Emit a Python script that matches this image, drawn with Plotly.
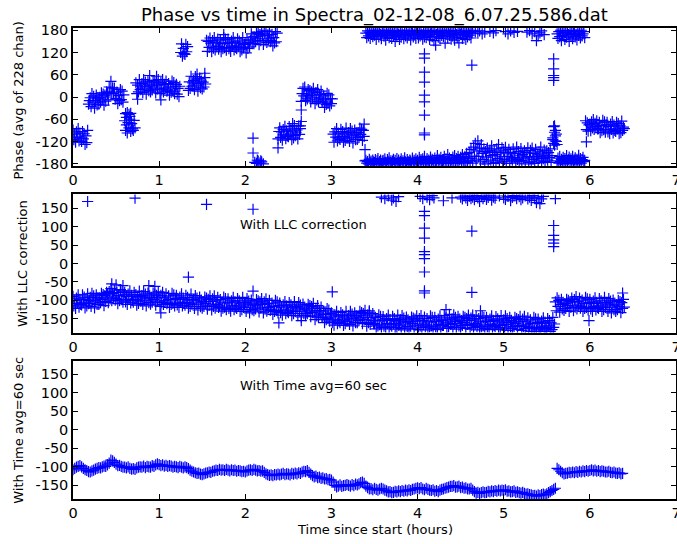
import numpy as np
import plotly.graph_objects as go

# ---------------- data ----------------
x_ticks = [0, 1, 2, 3, 4, 5, 6, 7]
y1_ticks = [-180, -120, -60, 0, 60, 120, 180]
y23_ticks = [-150, -100, -50, 0, 50, 100, 150]

# Panel 1: raw phase, one sample every 0.01 h from t=0.00
phase_raw = [
 -89, -115, -100, -122, -94, -108, -85, -118, -97, -111,
 -120, -93, -113, -99, -128, -105, -123, -90, -19, -10,
 -2, -26, 9, -14, 2, -30, -9, 5, -21, -3,
 -19, -1, -14, 11, -6, 8, -22, 5, -11, 14,
 10, -8, 27, 12, 42, 9, 25, 9, 24, -6,
 -4, 13, -18, 4, -10, 20, -7, 16, -14, 6,
 -64, -90, -75, -97, -69, -83, -60, -93, -72, -86,
 -90, -63, -83, 38, 9, 32, 14, 47, 20, 29,
 36, 12, 47, 24, 40, 8, 29, 43, 17, 35,
 14, 32, 19, 44, 27, 41, 11, 38, 22, 47,
 32, 9, 39, 19, 47, 14, 34, 24, 43, 16,
 19, 36, 5, 27, 13, 43, 16, 39, 9, 29,
 34, 8, 23, 1, 29, 120, 143, 110, 131, 117,
 115, 142, 122, 136, 18, 41, 23, 56, 29, 38,
 44, 20, 55, 32, 48, 16, 37, 51, 25, 43,
 22, 40, 27, 52, 35, 153, 123, 150, 134, 159,
 145, 122, 152, 132, 160, 127, 147, 137, 156, 129,
 136, 153, 122, 144, 130, 160, 133, 156, 126, 146,
 156, 130, 145, 123, 151, 137, 160, 127, 148, 134,
 130, 157, 137, 151, 122, 145, 127, 160, 133, 142,
 143, 119, 154, 131, 147, 135, 153, 170, 144, 162,
 144, 162, 149, 174, 157, 171, 141, 168, 152, 177,
 165, 142, 172, 152, 180, 147, 167, 157, 176, 149,
 152, 169, 138, 160, 146, 176, 149, 172, -113, -93,
 -83, -109, -94, -116, -88, -102, -79, -112, -91, -105,
 -107, -80, -100, -86, -115, -92, -110, -77, -104, -95,
 -89, -113, -78, -101, -85, -12, 9, 23, 3, 27,
 -10, 8, -5, 20, 3, 17, -13, 14, -2, 23,
 5, -18, 12, -8, 20, -13, 7, -3, 16, -11,
 -14, 3, -28, -6, -20, 10, -17, 6, -24, -4,
 -18, -5, -100, -122, -94, -108, -85, -118, -97, -111,
 -114, -87, -107, -93, -122, -99, -117, -84, -111, -102,
 -96, -120, -85, -108, -92, -124, -103, -89, -115, -97,
 -114, -96, -109, -84, -101, -87, -117, -90, -106, -172,
 -171, -178, -174, -180, -168, -176, -173, -179, -170, -175,
 -177, -169, -180, -172, -166, -178, -174, -170, -180, -173,
 -171, -179, -167, -176, -180, -169, -175, -164, -178, -172,
 -179, -173, -168, -177, -171, -180, -166, -176, -170, -178,
 -174, -167, -179, -172, -177, -164, -175, -180, -169, -174,
 -177, -170, -173, -180, -165, -176, -171, -178, -167, -175,
 -171, -178, -163, -175, -169, -180, -167, -174, -160, -177,
 -174, -166, -179, -170, -176, -162, -173, -168, -178, -171,
 -165, -177, -170, -158, -175, -168, -179, -163, -173, -176,
 -170, -160, -176, -167, -179, -155, -172, -165, -178, -169,
 -176, -162, -171, -158, -179, -166, -174, -160, -177, -168,
 -163, -175, -155, -170, -178, -160, -173, -152, -176, -166,
 -150, -172, -141, -165, -178, -135, -160, -125, -170, -145,
 -118, -160, -138, -175, -128, -152, -168, -140, -180, -147,
 -162, -138, -175, -150, -143, -170, -132, -158, -179, -146,
 -155, -177, -140, -166, -128, -172, -150, -161, -137, -175,
 -145, -168, -136, -179, -153, -160, -141, -173, -149, -165,
 -170, -140, -163, -152, -178, -135, -168, -147, -174, -157,
 -139, -171, -155, -165, -145, -180, -150, -162, -137, -176,
 -160, -144, -175, -138, -168, -152, -179, -141, -164, -156,
 -172, -148, -160, -135, -177, -153, -166, -143, -174, -158,
 -145, -170, -150, -163, -140, -176, -158, -110, -125, -95,
 -118, -100, -172, -165, -178, -160, -174, -168, -180, -163,
 -176, -166, -171, -158, -179, -169, -162, -175, -167, -173,
 -160, -177, -170, -164, -180, -168, -172, -157, -175, -166,
 -178, -169, -163, -174, -171, -64, -88, -70, -92, -75,
 -73, -91, -67, -83, -61, -87, -71, -79, -64, -86,
 -85, -68, -96, -77, -91, -63, -88, -67, -95, -75,
 -68, -94, -79, -99, -73, -87, -66, -97, -76, -90,
 -93, -68, -86, -72, -99, -78, -96, -65, -90, -81,
 -85,
]

# Panel 1: wrapped (near +180) samples, 3.40-4.64 h and 5.62-5.94 h, every 0.01 h
raw_top_a_start = 3.40
raw_top_a = [
 172, 160, 178, 165, 175, 158, 170, 180, 163, 174,
 167, 179, 155, 171, 176, 162, 180, 168, 157, 173,
 178, 164, 170, 153, 175, 167, 180, 160, 172, 176,
 158, 174, 166, 179, 150, 171, 163, 177, 169, 155,
 175, 161, 180, 168, 157, 173, 165, 178, 159, 170,
 166, 177, 154, 172, 180, 162, 169, 175, 158, 179,
 171, 159, 176, 165, 180, 168, 156, 174, 162, 178,
 160, 173, 167, 179, 155, 170, 176, 163, 180, 152,
 174, 140, 168, 177, 161, 172, 158, 180, 166, 175,
 163, 178, 145, 170, 175, 159, 180, 167, 172, 156,
 177, 164, 171, 153, 179, 168, 160, 175, 146, 173,
 169, 180, 158, 174, 165, 177, 155, 171, 162, 178,
 167, 175, 159, 172, 180,
]
raw_top_b_start = 5.62
raw_top_b = [
 170, 158, 176, 163, 180, 152, 172, 166, 178, 155,
 174, 161, 179, 168, 150, 175, 164, 180, 157, 171,
 177, 162, 169, 154, 178, 166, 173, 159, 180, 165,
 170, 176, 160,
]

# Panel 1: isolated samples
raw_out_t = [0.61, 0.63, 0.65, 0.66, 0.62, 0.67, 0.75, 0.89, 0.97, 1.02, 1.44, 1.53, 1.75,
             2.09, 2.09, 2.11, 2.13, 2.15, 2.17, 2.19, 2.21, 2.14, 2.18,
             2.38, 2.55, 2.65, 2.65, 2.64, 3.39, 3.38,
             4.08, 4.08, 4.08, 4.08, 4.08, 4.08, 4.08, 4.08, 4.08,
             4.63,
             5.58, 5.58, 5.58, 5.58, 5.58,
             5.58, 5.59, 5.60, 5.61, 5.60, 5.59, 5.57, 5.62,
             4.67, 4.70, 4.72, 4.75, 4.78, 4.84, 4.88, 4.91, 5.02, 5.05, 5.08,
             5.12, 5.16, 5.27, 5.30, 5.33, 5.36, 5.38, 5.40, 5.42, 5.44, 5.47,
             5.96]
raw_out_v = [-45, -42, -47, -52, -55, -44, -6, 58, 56, -8, 62, 64, 168,
             -111, -151, -176, -179, -173, -178, -175, -180, -170, -172,
             -137, -72, -66, -35, -78, -142, -73,
             116, 105, 67, 40, 5, -13, -49, -97, -102,
             86,
             103, 76, 58, 52, 45,
             -80, -130, -90, -120, -105, -78, -115, -128,
             176, 172, 178, 170, 175, 177, 173, 179, 176, 170, 178,
             174, 177, 175, 179, 170, 176, 152, 165, 173, 178, 168,
             -121]

# Panel 2: LLC-corrected phase, every 0.01 h from t=0.00
phase_llc = [
 -89, -115, -100, -122, -94, -108, -85, -118, -97, -111,
 -112, -85, -105, -91, -120, -97, -115, -82, -109, -100,
 -92, -116, -81, -104, -88, -120, -99, -85, -111, -93,
 -111, -93, -106, -81, -98, -84, -114, -87, -103, -78,
 -83, -106, -76, -96, -68, -101, -81, -91, -72, -99,
 -95, -78, -109, -87, -101, -71, -98, -75, -105, -85,
 -78, -104, -89, -111, -83, -97, -74, -107, -86, -100,
 -105, -78, -98, -84, -113, -90, -108, -75, -102, -93,
 -87, -111, -76, -99, -83, -115, -94, -80, -106, -88,
 -110, -92, -105, -80, -97, -83, -113, -86, -102, -77,
 -93, -116, -86, -106, -78, -111, -91, -101, -82, -109,
 -105, -88, -119, -97, -111, -81, -108, -85, -115, -95,
 -86, -112, -97, -119, -91, -105, -82, -115, -94, -108,
 -113, -86, -106, -92, -121, -98, -116, -83, -110, -101,
 -98, -122, -87, -110, -94, -126, -105, -91, -117, -99,
 -121, -103, -116, -91, -108, -94, -124, -97, -113, -88,
 -103, -126, -96, -116, -88, -121, -101, -111, -92, -119,
 -115, -98, -129, -107, -121, -91, -118, -95, -125, -105,
 -96, -122, -107, -129, -101, -115, -92, -125, -104, -118,
 -122, -95, -115, -101, -130, -107, -125, -92, -119, -110,
 -106, -130, -95, -118, -102, -134, -113, -99, -125, -107,
 -128, -110, -123, -98, -115, -101, -131, -104, -120, -95,
 -111, -134, -104, -124, -96, -129, -109, -119, -100, -127,
 -124, -107, -138, -116, -130, -100, -127, -104, -134, -114,
 -107, -133, -118, -140, -112, -126, -103, -136, -115, -129,
 -133, -106, -126, -112, -141, -118, -136, -103, -130, -121,
 -117, -141, -106, -129, -113, -145, -124, -110, -136, -118,
 -141, -123, -136, -111, -128, -114, -144, -117, -133, -108,
 -129, -152, -122, -142, -114, -147, -127, -137, -118, -145,
 -146, -129, -160, -138, -152, -122, -149, -126, -156, -136,
 -134, -160, -145, -167, -139, -153, -130, -163, -142, -156,
 -160, -133, -153, -139, -168, -145, -163, -130, -157, -148,
 -141, -165, -130, -153, -137, -169, -148, -134, -160, -142,
 -160, -142, -155, -130, -147, -133, -163, -136, -152, -127,
 -147, -170, -140, -160, -132, -165, -145, -155, -136, -163,
 -163, -146, -177, -155, -169, -139, -166, -143, -173, -153,
 -144, -170, -155, -177, -149, -163, -140, -173, -152, -166,
 -170, -143, -163, -149, -178, -155, -173, -140, -167, -158,
 -152, -176, -141, -164, -148, -180, -159, -145, -171, -153,
 -175, -157, -170, -145, -162, -148, -178, -151, -167, -142,
 -156, -179, -149, -169, -141, -174, -154, -164, -145, -172,
 -166, -149, -180, -158, -172, -142, -169, -146, -176, -156,
 -146, -172, -157, -179, -151, -165, -142, -175, -154, -168,
 -168, -141, -161, -147, -176, -153, -171, -138, -165, -156,
 -150, -174, -139, -162, -146, -178, -157, -143, -169, -151,
 -173, -155, -168, -143, -160, -146, -176, -149, -165, -140,
 -155, -178, -148, -168, -140, -173, -153, -163, -144, -171,
 -166, -149, -180, -158, -172, -142, -169, -146, -176, -156,
 -146, -172, -157, -179, -151, -165, -142, -175, -154, -168,
 -171, -144, -164, -150, -179, -156, -174, -141, -168, -159,
 -153, -177, -142, -165, -149, -181, -160, -146, -172, -154,
 -176, -158, -171, -146, -163, -149, -179, -152, -168, -143,
 -158, -181, -151, -171, -143, -176, -156, -166, -147, -174,
 -170, -153, -184, -162, -176, -146, -173, -150, -180, -160,
 -151, -177, -162, -184, -156, -170, -147, -180, -159, -173,
 -176, -149, -169, -155, -184, -161, -179, -146, -173, -164,
 -104, -128, -93, -116, -100, -132, -111, -97, -123, -105,
 -127, -109, -122, -97, -114, -100, -130, -103, -119, -94,
 -105, -128, -98, -118, -90, -123, -103, -113, -94, -121,
 -116, -99, -130, -108, -122, -92, -119, -96, -126, -106,
 -97, -123, -108, -130, -102, -116, -93, -126, -105, -119,
 -122, -95, -115, -101, -130, -107, -125, -92, -119, -110,
 -106, -130, -95, -118, -102, -134, -113, -99, -125, -107,
 -130, -112, -125, -100, -117, -103, -133, -106, -122, -97,
 -118,
]

# Panel 2: isolated / wrapped samples
llc_out_t = [3.58, 3.62, 3.66, 3.70, 3.72, 3.75, 3.78, 4.03, 4.06, 4.11, 4.14, 4.17, 4.19, 4.30, 4.40,
             4.50, 4.52, 4.54, 4.56, 4.58, 4.60, 4.62, 4.64, 4.66, 4.68,
             4.70, 4.72, 4.74, 4.76, 4.78, 4.80, 4.82, 4.84, 4.86, 4.88,
             4.90, 4.95, 5.00, 5.02, 5.05, 5.08, 5.10, 5.12, 5.15, 5.18,
             5.20, 5.22, 5.25, 5.28, 5.30, 5.32, 5.34, 5.36, 5.38, 5.40,
             5.42, 5.44, 5.46, 5.60,
             4.08, 4.08, 4.08, 4.08, 4.08, 4.08, 4.08, 4.08, 4.08, 4.08, 4.63, 4.63,
             5.58, 5.58, 5.58, 5.58, 5.58,
             0.17, 0.72, 1.55, 2.09, 1.34, 3.01, 2.39, 2.65, 2.09, 1.02,
             6.38, 5.99, 3.44, 0.45, 0.50, 0.58, 0.88, 0.95, 4.33, 4.73]
llc_out_v = [180, 176, 183, 172, 178, 168, 181, 182, 176, 180, 173, 184, 178, 170, 178,
             180, 175, 183, 178, 171, 182, 176, 180, 173, 184,
             178, 168, 181, 176, 183, 174, 179, 185, 172, 180,
             177, 183, 178, 174, 182, 170, 179, 184, 176, 181,
             173, 178, 183, 175, 180, 171, 184, 177, 165, 180,
             162, 175, 182, 176,
             141, 130, 96, 69, 32, 24, 13, -23, -74, -80, 88, -78,
             103, 76, 64, 55, 46,
             168, 177, 160, 147, -37, -77, -161, -155, -75, -134,
             -80, -155, -128, -55, -58, -60, -60, -62, -125, -128]

# Panel 3: 60 s time-averaged phase, every 0.02 h from t=0.00
phase_avg = [
 -108, -104, -101, -99, -97, -100, -104, -108, -110, -113,
 -114, -111, -109, -106, -104, -102, -103, -100, -98, -99,
 -95, -90, -82, -84, -88, -93, -97, -96, -99, -101,
 -101, -103, -100, -104, -106, -105, -107, -103, -101, -100,
 -101, -98, -102, -99, -100, -101, -97, -99, -95, -92,
 -94, -97, -95, -98, -96, -99, -97, -98, -101, -99,
 -100, -102, -99, -101, -103, -100, -102, -105, -109, -112,
 -114, -116, -118, -117, -120, -121, -119, -117, -116, -114,
 -115, -112, -111, -109, -110, -107, -109, -108, -110, -107,
 -109, -111, -108, -110, -109, -112, -110, -111, -113, -112,
 -114, -111, -109, -108, -110, -107, -109, -111, -110, -112,
 -111, -115, -119, -121, -123, -122, -124, -121, -122, -120,
 -122, -120, -118, -121, -119, -120, -122, -118, -120, -117,
 -119, -116, -118, -114, -112, -113, -110, -115, -120, -124,
 -127, -125, -129, -128, -131, -130, -133, -132, -135, -134,
 -136, -141, -150, -154, -152, -149, -153, -151, -150, -148,
 -150, -152, -148, -151, -147, -149, -146, -143, -141, -145,
 -152, -156, -160, -159, -162, -158, -161, -163, -160, -158,
 -160, -163, -165, -168, -167, -170, -169, -166, -168, -165,
 -167, -164, -166, -163, -165, -162, -164, -161, -160, -158,
 -157, -159, -156, -160, -162, -158, -161, -163, -164, -162,
 -166, -164, -167, -163, -161, -160, -158, -156, -155, -153,
 -153, -151, -155, -154, -152, -156, -155, -158, -157, -160,
 -160, -158, -163, -167, -171, -169, -172, -170, -168, -170,
 -169, -166, -168, -165, -167, -164, -166, -163, -165, -163,
 -164, -162, -166, -165, -168, -167, -165, -169, -168, -170,
 -171, -169, -172, -174, -173, -175, -176, -178, -177, -179,
 -176, -178, -175, -174, -176, -173, -170, -167, -164, -161,
 -158, -104, -108, -112, -116, -119, -118, -117, -115, -116,
 -114, -116, -113, -115, -112, -114, -111, -113, -110, -112,
 -110, -108, -111, -109, -112, -110, -113, -111, -112, -114,
 -114, -112, -115, -116, -114, -117, -118, -116, -119, -118,
]

title_text = "Phase vs time in Spectra_02-12-08_6.07.25.586.dat"
ylabels = ["Phase (avg of 228 chan)", "With LLC correction", "With Time avg=60 sec"]
xlabel = "Time since start (hours)"
note2 = "With LLC correction"
note3 = "With Time avg=60 sec"

# ---------------- build ----------------
t_raw = np.round(np.arange(len(phase_raw)) * 0.01, 2)
t_top_a = np.round(raw_top_a_start + np.arange(len(raw_top_a)) * 0.01, 2)
t_top_b = np.round(raw_top_b_start + np.arange(len(raw_top_b)) * 0.01, 2)
t_llc = np.round(np.arange(len(phase_llc)) * 0.01, 2)
t_avg = np.round(np.arange(len(phase_avg)) * 0.02, 2)

x1 = np.concatenate([t_raw, t_top_a, t_top_b, raw_out_t])
y1 = np.concatenate([phase_raw, raw_top_a, raw_top_b, raw_out_v])
x2 = np.concatenate([t_llc, llc_out_t])
y2 = np.concatenate([phase_llc, llc_out_v])

FONT = "DejaVu Sans"
mk = dict(symbol="cross-thin", size=8, color="#0000ff", line=dict(width=1.2, color="#0000ff"))

fig = go.Figure()
fig.add_trace(go.Scatter(x=x1, y=y1, mode="markers", marker=mk, xaxis="x", yaxis="y", showlegend=False))
fig.add_trace(go.Scatter(x=x2, y=y2, mode="markers", marker=mk, xaxis="x2", yaxis="y2", showlegend=False))
fig.add_trace(go.Scatter(x=t_avg, y=phase_avg, mode="markers", marker=mk, xaxis="x3", yaxis="y3", showlegend=False))

axis_common = dict(showline=True, linecolor="black", linewidth=1.5, mirror="ticks",
                   ticks="inside", ticklen=5, tickwidth=1, tickcolor="black",
                   showgrid=False, zeroline=False, automargin=False,
                   tickfont=dict(family=FONT, size=14.5, color="black"))

def xax(anchor):
    return dict(axis_common, range=[0, 7], tickvals=x_ticks, ticktext=[str(v) for v in x_ticks],
                anchor=anchor, domain=[0, 1], ticklabeloverflow="allow")

def yax(dom, ticks, rng):
    return dict(axis_common, range=rng, tickvals=ticks, ticktext=[str(v) for v in ticks],
                domain=dom)

annotations = [
    dict(text=note2, x=1.92, y=107, xref="x2", yref="y2", xanchor="left", yanchor="middle",
         showarrow=False, font=dict(family=FONT, size=13, color="black")),
    dict(text=note3, x=1.92, y=120, xref="x3", yref="y3", xanchor="left", yanchor="middle",
         showarrow=False, font=dict(family=FONT, size=13, color="black")),
    dict(text=xlabel, x=0.5, y=-0.064, xref="paper", yref="paper", xanchor="center", yanchor="middle",
         showarrow=False, font=dict(family=FONT, size=13, color="black")),
    dict(text=title_text, x=0.5, y=1.027, xref="paper", yref="paper", xanchor="center", yanchor="middle",
         showarrow=False, font=dict(family=FONT, size=18, color="black")),
]
for lab, xp, yp in zip(ylabels, [-0.0896, -0.0837, -0.0904], [0.846, 0.5, 0.146]):
    annotations.append(dict(text=lab, x=xp, y=yp, xref="paper", yref="paper", textangle=-90,
                            xanchor="center", yanchor="middle", showarrow=False,
                            font=dict(family=FONT, size=13, color="black")))

fig.update_layout(
    width=677, height=544,
    margin=dict(l=73, r=1, t=28, b=45),
    paper_bgcolor="white", plot_bgcolor="white",
    xaxis=xax("y"), xaxis2=xax("y2"), xaxis3=xax("y3"),
    yaxis=yax([0.707, 1.0], y1_ticks, [-186, 186]),
    yaxis2=yax([0.3535, 0.6465], y23_ticks, [-187, 187]),
    yaxis3=yax([0.0, 0.293], y23_ticks, [-187, 186]),
    annotations=annotations,
    font=dict(family=FONT, color="black"),
)

fig.write_html("out.html")
